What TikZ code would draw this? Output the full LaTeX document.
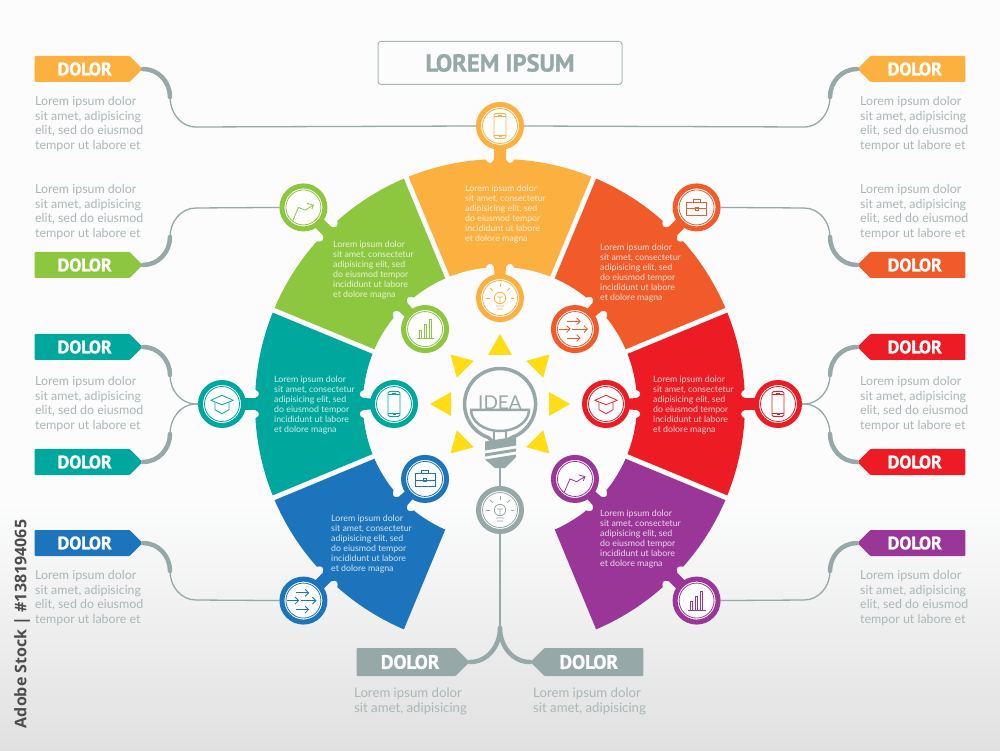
\documentclass[tikz,border=0pt]{standalone}
\usepackage{fontspec}
\usetikzlibrary{shapes.symbols,arrows.meta}
\setmainfont{Lato}
\newfontfamily\headfont{PT Sans Bold}[FakeBold=1.1]
\newfontfamily\stampfont{Open Sans}
\definecolor{dorange}{HTML}{FBB040}
\definecolor{dgreen}{HTML}{8DC63F}
\definecolor{dteal}{HTML}{00A79D}
\definecolor{dblue}{HTML}{1C75BC}
\definecolor{dpurple}{HTML}{9A3697}
\definecolor{dred}{HTML}{ED1C24}
\definecolor{drust}{HTML}{F15A29}
\definecolor{dgray}{HTML}{97A8A8}
\definecolor{dtext}{HTML}{A9B7B8}
\definecolor{dyellow}{HTML}{FFDD15}
\newcommand{\sectorlorem}{Lorem ipsum dolor\\sit amet, consectetur\\adipisicing elit, sed\\do eiusmod tempor\\incididunt ut labore\\et dolore magna}
\newcommand{\sidelorem}{Lorem ipsum dolor\\sit amet, adipisicing\\elit, sed do eiusmod\\tempor ut labore et}
\tikzset{
  badge/.style={circle,fill=white,draw=#1,line width=5,minimum size=43,inner sep=0},
  tag/.style={signal,signal pointer angle=90,fill=#1,text=white,minimum width=108,minimum height=26,inner sep=0,rounded corners=1,font=\headfont\fontsize{18}{18}\selectfont},
  sidetext/.style={anchor=north west,align=left,inner sep=0,text=dtext,font=\fontsize{12.4}{14.4}\selectfont},
  sectortext/.style={anchor=north west,align=left,inner sep=0,text=white,text opacity=.8,font=\fontsize{8.8}{10}\selectfont},
  leaderthick/.style={dgray,line width=4.5,line cap=round},
  leaderthin/.style={dgray,line width=1.3},
  pics/wedge/.style={code={
    \fill (-21.9:245) arc[start angle=-21.9,end angle=-3.4,radius=245pt]
      .. controls (-2.8:240) and (-1.9:240) .. (-1.4:245) -- (-1.3:262) -- (1.3:262) -- (1.4:245)
      .. controls (1.9:240) and (2.8:240) .. (3.4:245)
      arc[start angle=3.4,end angle=21.9,radius=245pt]
      -- (21.45:137) arc[start angle=21.45,end angle=6,radius=137pt]
      .. controls (4.9:142) and (3.3:142) .. (2.5:137) -- (2.3:118) -- (-2.3:118) -- (-2.5:137)
      .. controls (-3.3:142) and (-4.9:142) .. (-6:137)
      arc[start angle=-6,end angle=-21.45,radius=137pt] -- cycle;
  }},
  pics/phoneicon/.style={code={
    \draw[line width=.8,rounded corners=1.5] (-6,-12.5) rectangle (6,12.5);
    \draw[line width=.8] (-6,-9) -- (6,-9) (-6,9.5) -- (6,9.5) (-2,11) -- (2,11) (-1.5,-10.8) -- (1.5,-10.8);
  }},
  pics/charticon/.style={code={
    \draw[line width=.8] (-10.7,-13.3) -- (-5,0) -- (1.7,-2.7) -- (10,2.3) (3.7,4) -- (10,2.3) -- (8.3,-2);
  }},
  pics/caseicon/.style={code={
    \draw[line width=.8] (-10,-7.5) rectangle (10,5.5) (-10,-1) -- (10,-1) (-3.5,5.5) -- (-3.5,8.5) -- (3.5,8.5) -- (3.5,5.5) (-1.5,-2.5) rectangle (1.5,.5);
  }},
  pics/capicon/.style={code={
    \draw[line width=.8,line join=round] (-11.3,3.7) -- (0,8.7) -- (11.3,3.7) -- (0,-.7) -- cycle;
    \draw[line width=.8,line join=round] (-7,1.7) -- (-7,-5.7) -- (0,-9.7) -- (7,-5.7) -- (7,1.7);
  }},
  pics/barsicon/.style={code={
    \draw[line width=.8] (-8.5,-9.7) -- (9,-9.7) (-6,-9.7) -- (-6,-1) -- (-4,-1) -- (-4,-9.7) (-1,-9.7) -- (-1,4.3) -- (1,4.3) -- (1,-9.7) (4,-9.7) -- (4,9.3) -- (6,9.3) -- (6,-9.7);
  }},
  pics/arrowsicon/.style={code={
    \draw[line width=.8,-{Straight Barb[length=3.5pt,width=7pt]}] (-7.7,7.7) -- (5.7,7.7);
    \draw[line width=.8,-{Straight Barb[length=3.5pt,width=7pt]}] (-2.7,0) -- (13,0);
    \draw[line width=.8,-{Straight Barb[length=3.5pt,width=7pt]}] (-7.7,-9) -- (5.7,-9);
    \draw[line width=.8,-{Straight Barb[length=3.5pt,width=7pt]}] (-16,0) -- (-4.3,0);
  }},
  pics/bulbicon/.style={code={
    \draw[line width=.8] (0,0) circle (5.7pt) (-3,1) -- (3,1) (0,1) -- (0,-5.7) (-4,-8) -- (4,-8) (-3,-11) -- (3,-11);
    \foreach \rayangle in {0,45,90,135,180}
      \draw[line width=.8] (\rayangle:10.5) -- (\rayangle:14);
  }}
}
\begin{document}
\begin{tikzpicture}[x=1pt,y=1pt]
  \useasboundingbox (0,0) rectangle (1000,750);
  \fill[white!97!dgray] (0,250) rectangle (1000,750);
  \shade[top color=white!97!dgray,bottom color=black!12] (0,0) rectangle (1000,250);
  \coordinate (hub) at (500,346);
  % title
  \node[draw=dtext,line width=1,rounded corners=3,minimum width=244,minimum height=43,text=dgray,font=\headfont\fontsize{24.5}{24.5}\selectfont] (title) at (500,687) {LOREM IPSUM};
  % sectors with their two badges
  \foreach \nm/\ang/\col/\icoin/\icoout/\tx/\ty in {orange/90/dorange/bulbicon/phoneicon/465/565,
      green/135/dgreen/barsicon/charticon/333/509,
      rust/45/drust/arrowsicon/caseicon/600/506,
      teal/180/dteal/phoneicon/capicon/274/374,
      red/0/dred/capicon/phoneicon/653/374,
      blue/225/dblue/caseicon/arrowsicon/331/235,
      purple/-45/dpurple/charticon/barsicon/600/240}{
    \pic[rotate=\ang,color=\col] at (hub) {wedge};
    \node[sectortext] (\nm-text) at (\tx,\ty) {\sectorlorem};
    \node[badge=\col] (\nm-in) at ([shift={(\ang:106)}]hub) {};
    \node[badge=\col] (\nm-out) at ([shift={(\ang:278)}]hub) {};
    \draw[\col,line width=.8] (\nm-in) circle (17.5pt) (\nm-out) circle (17.5pt);
    \pic[color=\col] at (\nm-in) {\icoin};
    \pic[color=\col] at (\nm-out) {\icoout};
  }
  % left tags
  \foreach \nm/\col/\tagy/\jointy/\endy/\target/\dirout/\dirin in {la/dorange/681/653/623/orange-out/-90/90,
      lb/dgreen/485/513/542/green-out/90/-90,
      lc/dteal/403/375/346/teal-out/-90/90,
      ld/dteal/288/316/346/teal-out/90/-90,
      le/dblue/207/179/150/blue-out/-90/90}{
    \node[tag=\col,signal to=east,anchor=east] (\nm) at (143,\tagy) {\kern5pt DOLOR};
    \coordinate (\nm-joint) at (170,\jointy);
    \coordinate (\nm-bend) at (196,\endy);
    \draw[leaderthin] (\nm-joint) to[out=\dirout,in=180] (\nm-bend) -- (\target.west);
    \draw[leaderthick] (\nm.east) to[out=0,in=\dirin] (\nm-joint);
  }
  % right tags
  \foreach \nm/\col/\tagy/\jointy/\endy/\target/\dirout/\dirin in {ra/dorange/681/653/623/orange-out/-90/90,
      rb/drust/485/513/542/rust-out/90/-90,
      rc/dred/403/375/346/red-out/-90/90,
      rd/dred/288/316/346/red-out/90/-90,
      re/dpurple/207/179/150/purple-out/-90/90}{
    \node[tag=\col,signal to=west,anchor=west] (\nm) at (857,\tagy) {DOLOR\kern6pt};
    \coordinate (\nm-joint) at (830,\jointy);
    \coordinate (\nm-bend) at (804,\endy);
    \draw[leaderthin] (\nm-joint) to[out=\dirout,in=0] (\nm-bend) -- (\target.east);
    \draw[leaderthick] (\nm.west) to[out=180,in=\dirin] (\nm-joint);
  }
  % side texts
  \foreach \nm/\ty in {a/653.5,b/565.5,c/373.5,d/179.5}{
    \node[sidetext] (left\nm) at (35,\ty) {\sidelorem};
    \node[sidetext] (right\nm) at (860,\ty) {\sidelorem};
  }
  % rays
  \foreach \ang in {0,45,90,135,180,225,-45}
    \fill[dyellow,rotate around={\ang:(hub)}] (549,358) -- (570,346) -- (549,334) -- cycle;
  % idea bulb
  \begin{scope}[shift={(0,750)},yscale=-1,dgray]
    \draw[line width=3.5] (492,441) -- (488.5,437.6) arc[start angle=109,end angle=431,radius=35.5pt] -- (508,440);
    \draw[line width=2.5] (470,410) -- (530,410) (471,410) arc[start angle=180,end angle=0,x radius=29pt,y radius=21pt];
    \draw[line width=2] (494,430) -- (494,441) (506,430) -- (506,439);
    \fill (485,441.5) -- (516,436.5) -- (516,445.5) -- (485,450.5) -- cycle;
    \fill (485,453.5) -- (516,448.5) -- (516,451.5) -- (485,456.5) -- cycle;
    \fill (485,459.5) -- (516,454.5) -- (516,457) -- (505,468) -- (495,468) -- cycle;
  \end{scope}
  \node[inner sep=0,text=dgray,font=\fontsize{19}{19}\selectfont,anchor=south] (idea) at (500,340) {IDEA};
  \coordinate (bulbfoot) at (500,283);
  \node[badge=dgray] (lamp) at (500,240) {};
  \draw[dgray,line width=.8] (lamp) circle (17.5pt);
  \pic[color=dgray] at (lamp) {bulbicon};
  \draw[dgray,line width=2.5] (bulbfoot) -- (lamp.north);
  % bottom tags
  \coordinate (fork) at (500,122);
  \draw[dgray,line width=2.5] (lamp.south) -- (fork);
  \node[tag=dgray,signal to=east,anchor=east,minimum width=113,minimum height=28,font=\headfont\fontsize{19.5}{19.5}\selectfont] (bl) at (470,88) {\kern8pt DOLOR};
  \node[tag=dgray,signal to=west,anchor=west,minimum width=113,minimum height=28,font=\headfont\fontsize{19.5}{19.5}\selectfont] (br) at (530,88) {DOLOR\kern10pt};
  \draw[leaderthick] (bl.east) to[out=0,in=-90] (fork);
  \draw[leaderthick] (br.west) to[out=180,in=-90] (fork);
  \node[sidetext,font=\fontsize{13.2}{15}\selectfont] (bottoml) at (354,62) {Lorem ipsum dolor\\sit amet, adipisicing};
  \node[sidetext,font=\fontsize{13.2}{15}\selectfont] (bottomr) at (533,62) {Lorem ipsum dolor\\sit amet, adipisicing};
  % stamp
  \node[rotate=90,inner sep=0,text=black!70,font=\stampfont\bfseries\fontsize{16}{16}\selectfont] (stamp) at (22,126) {Adobe Stock | \#138194065};
\end{tikzpicture}
\end{document}
